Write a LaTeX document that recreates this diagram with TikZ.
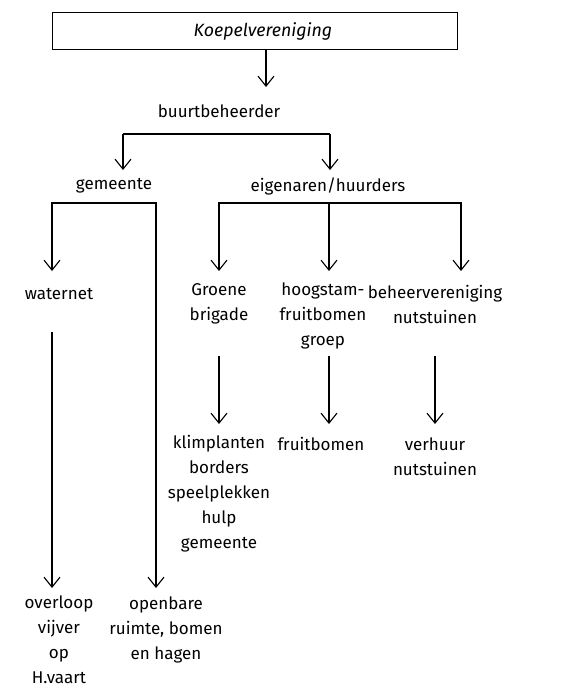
\documentclass[tikz,border=0pt]{standalone}
\usepackage{fontspec}
\setmainfont{Fira Sans}
\usetikzlibrary{arrows.meta}
\begin{document}
\begin{tikzpicture}[x=1pt,y=-1pt,
  lbl/.style={font=\fontsize{17}{25}\selectfont, align=center, inner sep=0pt},
  con/.style={line width=1.2pt},
  arr/.style={con, -{Straight Barb[length=10pt,width=16pt,line width=1.1pt]}}]
\useasboundingbox (0,0) rectangle (586,689);
% nodes
\node[draw, line width=1pt, minimum width=405pt, minimum height=37pt, inner sep=0pt] (boxr) at (254.5,30.5) {};
\node[lbl, font=\fontsize{17.8}{25}\selectfont\itshape] (koepel) at (263,31) {Koepelvereniging};
\node[lbl] (buurt) at (219,111) {buurtbeheerder};
\node[lbl] (gem) at (114,186) {gemeente};
\node[lbl] (eig) at (328,186) {eigenaren/huurders};
\node[lbl] (water) at (59,294) {waternet};
\node[lbl] (groene) at (219,304) {Groene\\brigade};
\node[lbl] (hoog) at (323,316) {hoogstam-\\fruitbomen\\groep};
\node[lbl] (beheer) at (435,304) {beheervereniging\\nutstuinen};
\node[lbl] (klim) at (219,494) {klimplanten\\borders\\speelplekken\\hulp\\gemeente};
\node[lbl] (fruit) at (321,444) {fruitbomen};
\node[lbl] (verhuur) at (435,456.5) {verhuur\\nutstuinen};
\node[lbl] (overloop) at (59,640) {overloop\\vijver\\op\\H.vaart};
\node[lbl] (openbare) at (166,630) {openbare\\ruimte, bomen\\en hagen};
% coordinates
\coordinate (k1) at (266,49);   \coordinate (k2) at (266,87);
\coordinate (b1) at (123,134);  \coordinate (b2) at (330,134);
\coordinate (b1e) at (123,170); \coordinate (b2e) at (330,170);
\coordinate (g1) at (52,203);   \coordinate (g2) at (156,203);
\coordinate (g1e) at (52,271);  \coordinate (g2e) at (156,588);
\coordinate (e1) at (219,203);  \coordinate (e2) at (329,203); \coordinate (e3) at (461,203);
\coordinate (e1e) at (219,271); \coordinate (e2e) at (329,271); \coordinate (e3e) at (461,271);
\coordinate (w1) at (52,332);   \coordinate (w1e) at (52,588);
\coordinate (r1) at (219,356);  \coordinate (r1e) at (219,424);
\coordinate (h1) at (329,356);  \coordinate (h1e) at (329,424);
\coordinate (n1) at (435,356);  \coordinate (n1e) at (435,424);
% connectors
\draw[arr] (k1) -- (k2);
\draw[arr] (b1) -- (b1e);
\draw[con] (b1) -- (b2);
\draw[arr] (b2) -- (b2e);
\draw[arr] (g2) -- (g1) -- (g1e);
\draw[arr] (g1) -- (g2) -- (g2e);
\draw[arr] (e3) -- (e1) -- (e1e);
\draw[arr] (e1) -- (e3) -- (e3e);
\draw[arr] (e2) -- (e2e);
\draw[arr] (w1) -- (w1e);
\draw[arr] (r1) -- (r1e);
\draw[arr] (h1) -- (h1e);
\draw[arr] (n1) -- (n1e);
\end{tikzpicture}
\end{document}
